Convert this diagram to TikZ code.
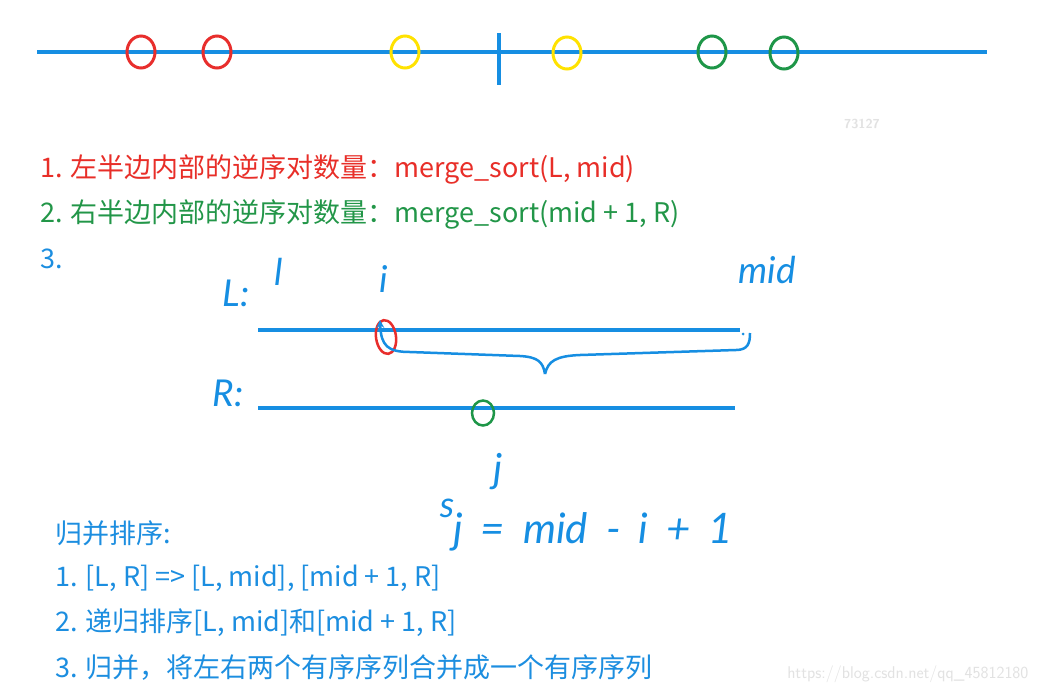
\documentclass[tikz,border=0pt]{standalone}
\usepackage{fontspec}
\setmainfont{Noto Sans CJK SC}
\newfontfamily\hand{Lato}
\usepackage{tikz}
\usetikzlibrary{shapes.geometric, arrows}
\usetikzlibrary{calc}
\definecolor{lineblue}{RGB}{22,142,226}
\definecolor{txtred}{RGB}{232,46,40}
\definecolor{txtgreen}{RGB}{34,150,72}
\definecolor{txtblue}{RGB}{28,142,224}
\definecolor{mkred}{RGB}{232,46,44}
\definecolor{mkyellow}{RGB}{255,226,0}
\definecolor{mkgreen}{RGB}{30,150,72}
\definecolor{faint}{RGB}{226,226,226}
\tikzstyle{bar} = [draw = lineblue, line width = 5pt]
\tikzstyle{ring} = [ellipse, draw, line width = 3pt, minimum width = 28pt, minimum height = 32pt, inner sep = 0pt]
\tikzstyle{note} = [anchor = west, inner sep = 0pt, font = \fontsize{27}{32}\selectfont]
\tikzstyle{ink} = [text = lineblue, inner sep = 0pt, font = \hand\itshape\fontsize{37}{40}\selectfont]
\tikzstyle{arrow} = [->,>=stealth]

\begin{document}
\begin{tikzpicture}[x=1pt, y=-1pt]
	\fill[white] (0,0) rectangle (1041,694);
	\useasboundingbox (0,0) rectangle (1041,694);
	% 数轴
	\coordinate (A0) at (37,52);
	\coordinate (A1) at (987,52);
	\coordinate (T0) at (499,33);
	\coordinate (T1) at (499,85);
	\draw [bar, line width = 4pt] (A0) -- (A1);
	\draw [bar, line width = 3.5pt] (T0) -- (T1);
	\node (R1) [ring, draw = mkred] at (141,52) {};
	\node (R2) [ring, draw = mkred] at (217,52) {};
	\node (Y1) [ring, draw = mkyellow] at (405,52) {};
	\node (Y2) [ring, draw = mkyellow] at (567,53) {};
	\node (G1) [ring, draw = mkgreen] at (712,52) {};
	\node (G2) [ring, draw = mkgreen] at (784,53) {};
	\node (WM) [text = faint, font = \sffamily\bfseries\fontsize{13}{14}\selectfont] at (862,124) {73127};
	% 三步
	\node (LS) [note, text = txtred] at (40,169) {1. 左半边内部的逆序对数量：merge\_sort(L, mid)};
	\node (RS) [note, text = txtgreen] at (40,214) {2. 右半边内部的逆序对数量：merge\_sort(mid + 1, R)};
	\node (CR) [note, text = txtblue] at (40,259) {3.};
	% 手写部分
	\coordinate (L0) at (258,330);
	\coordinate (L1) at (740,330);
	\coordinate (Q0) at (258,408);
	\coordinate (Q1) at (735,408);
	\draw [bar, line width = 4pt] (L0) -- (L1);
	\draw [bar, line width = 4pt] (Q0) -- (Q1);
	\node (LL) [ink] at (236,293) {L:};
	\node (ll) [ink] at (279,272) {l};
	\node (ii) [ink] at (384,279) {i};
	\node (MD) [ink] at (767,270) {mid};
	\node (RR) [ink] at (228,393) {R:};
	\node (PI) [ring, draw = mkred, line width = 2.5pt, minimum width = 20pt, minimum height = 34pt, rotate = 8] at (386,337) {};
	\node (PJ) [ring, draw = mkgreen, line width = 2.5pt, minimum width = 22pt, minimum height = 25pt] at (483,413) {};
	\coordinate (B0) at (380,320);
	\coordinate (BT) at (545,374);
	\coordinate (B1) at (750,333);
	\draw [arrow, <-, draw = lineblue, line width = 2.5pt] (B0) .. controls (381,346) and (388,352) .. (410,352) -- (520,356) .. controls (538,357) and (543,362) .. (BT);
	\draw [draw = lineblue, line width = 2.5pt] (BT) .. controls (548,361) and (556,356) .. (580,355) -- (736,350) .. controls (748,350) and (750,343) .. (B1);
	\fill [lineblue] (743,334) circle (1.5pt);
	\node (JJ) [ink, font = \hand\itshape\fontsize{40}{44}\selectfont] at (498,472) {j};
	\node (SS) [ink, font = \hand\itshape\fontsize{36}{38}\selectfont] at (447,508) {s};
	\node (EQ) [ink, anchor = west, font = \hand\itshape\fontsize{42}{46}\selectfont] at (453,532) {\spaceskip=18pt\relax j = mid - i + 1};
	% 归并排序
	\node (MS) [note, text = txtblue] at (55,533) {归并排序:};
	\node (M1) [note, text = txtblue] at (55,578) {1. [L, R] => [L, mid], [mid + 1, R]};
	\node (M2) [note, text = txtblue] at (55,623) {2. 递归排序[L, mid]和[mid + 1, R]};
	\node (M3) [note, text = txtblue] at (55,668) {3. 归并，将左右两个有序序列合并成一个有序序列};
	\node (URL) [anchor = east, text = faint, font = \sffamily\fontsize{17}{18}\selectfont] at (1032,674) {https://blog.csdn.net/qq\_45812180};
\end{tikzpicture}
\end{document}
